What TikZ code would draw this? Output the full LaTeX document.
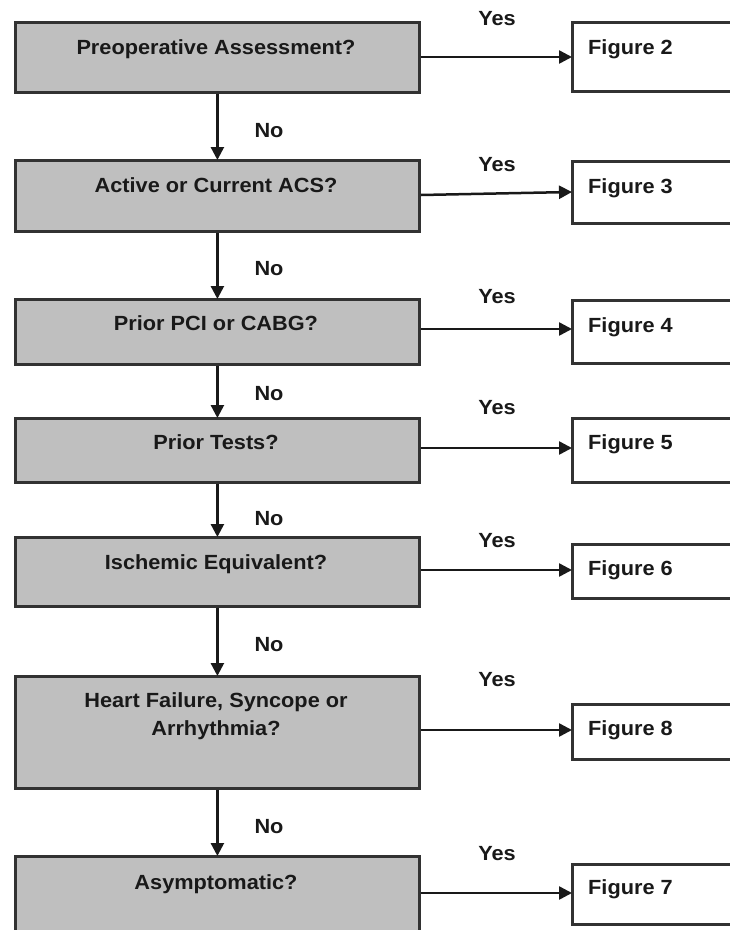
\documentclass[tikz,border=0pt]{standalone}
\usepackage{fontspec}
\setmainfont{Liberation Sans}[FakeStretch=1.06]
\usetikzlibrary{arrows.meta}
\definecolor{boxgray}{RGB}{191,191,191}
\definecolor{edgegray}{RGB}{50,50,50}
\definecolor{inkgray}{RGB}{25,25,25}
\tikzset{
  qbox/.style={draw=edgegray, fill=boxgray, line width=2.8pt, rectangle,
    anchor=north west, inner sep=0pt, minimum width=404pt},
  fbox/.style={draw=edgegray, fill=white, line width=2.8pt, rectangle,
    anchor=north west, inner sep=0pt, minimum width=200pt},
  txt/.style={font=\fontsize{20.5}{28}\selectfont\bfseries, text=inkgray,
    inner sep=0pt, anchor=base, align=center},
  ftxt/.style={txt, anchor=base west},
  arr/.style={draw=inkgray, line width=2.5pt,
    -{Triangle[length=13pt, width=13pt]}, shorten >=-1pt},
}
\begin{document}
\begin{tikzpicture}[x=1pt, y=-1pt]
\useasboundingbox (0,0) rectangle (730,930);
\clip (0,0) rectangle (730,930);

% question boxes (left column)
\node[qbox, minimum height=70pt]  (q1) at (14,21)  {};
\node[qbox, minimum height=71pt]  (q2) at (14,159) {};
\node[qbox, minimum height=65pt]  (q3) at (14,298) {};
\node[qbox, minimum height=64pt]  (q4) at (14,417) {};
\node[qbox, minimum height=69pt]  (q5) at (14,536) {};
\node[qbox, minimum height=112pt] (q6) at (14,675) {};
\node[qbox, minimum height=90pt]  (q7) at (14,855) {};

\node[txt] (q1t) at (216,54)  {Preoperative Assessment?};
\node[txt] (q2t) at (216,192) {Active or Current ACS?};
\node[txt] (q3t) at (216,330) {Prior PCI or CABG?};
\node[txt] (q4t) at (216,449) {Prior Tests?};
\node[txt] (q5t) at (216,569) {Ischemic Equivalent?};
\node[txt] (q6t) at (216,735) {Heart Failure, Syncope or\\Arrhythmia?};
\node[txt] (q7t) at (216,889) {Asymptomatic?};

% target boxes (right column)
\node[fbox, minimum height=69pt] (f2) at (571,21)  {};
\node[fbox, minimum height=62pt] (f3) at (571,160) {};
\node[fbox, minimum height=63pt] (f4) at (571,299) {};
\node[fbox, minimum height=64pt] (f5) at (571,417) {};
\node[fbox, minimum height=54pt] (f6) at (571,543) {};
\node[fbox, minimum height=55pt] (f8) at (571,703) {};
\node[fbox, minimum height=60pt] (f7) at (571,863) {};

\node[ftxt] (f2t) at (588,54)  {Figure 2};
\node[ftxt] (f3t) at (588,193) {Figure 3};
\node[ftxt] (f4t) at (588,332) {Figure 4};
\node[ftxt] (f5t) at (588,449) {Figure 5};
\node[ftxt] (f6t) at (588,575) {Figure 6};
\node[ftxt] (f8t) at (588,735) {Figure 8};
\node[ftxt] (f7t) at (588,894) {Figure 7};

% "No" connectors
\draw[arr] (q1.south) -- (q2.north);
\draw[arr] (q2.south) -- (q3.north);
\draw[arr] (q3.south) -- (q4.north);
\draw[arr] (q4.south) -- (q5.north);
\draw[arr] (q5.south) -- (q6.north);
\draw[arr] (q6.south) -- (q7.north);

% "Yes" connectors
\draw[arr] (q1.east |- 0,57)  -- (f2.west |- 0,57);
\draw[arr] (q2.east |- 0,195) -- (f3.west |- 0,192);
\draw[arr] (q3.east |- 0,329) -- (f4.west |- 0,329);
\draw[arr] (q4.east |- 0,448) -- (f5.west |- 0,448);
\draw[arr] (q5.east |- 0,570) -- (f6.west |- 0,570);
\draw[arr] (q6.east |- 0,730) -- (f8.west |- 0,730);
\draw[arr] (q7.east |- 0,893) -- (f7.west |- 0,893);

% branch labels
\node[txt] (y1) at (497,25)  {Yes};
\node[txt] (y2) at (497,171) {Yes};
\node[txt] (y3) at (497,303) {Yes};
\node[txt] (y4) at (497,414) {Yes};
\node[txt] (y5) at (497,547) {Yes};
\node[txt] (y6) at (497,686) {Yes};
\node[txt] (y7) at (497,860) {Yes};

\node[txt] (n1) at (269,137) {No};
\node[txt] (n2) at (269,275) {No};
\node[txt] (n3) at (269,400) {No};
\node[txt] (n4) at (269,525) {No};
\node[txt] (n5) at (269,651) {No};
\node[txt] (n6) at (269,833) {No};
\end{tikzpicture}
\end{document}
